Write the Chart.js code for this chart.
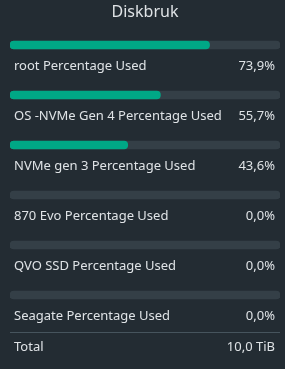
<!DOCTYPE html>
<html>
<head>
<meta charset="utf-8">
<script src="https://cdn.jsdelivr.net/npm/chart.js@4"></script>
<style>
	html, body { margin: 0; padding: 0; background: #232c33; }
	#wrap { width: 285px; height: 369px; position: relative; }
</style>
</head>
<body>
<div id="wrap"><canvas id="diskChart"></canvas></div>
<script>
"use strict";

const disks = ["root", "OS -NVMe Gen 4", "NVMe gen 3", "870 Evo", "QVO SSD", "Seagate"];
const usedPercent = [73.9, 55.7, 43.6, 0.0, 0.0, 0.0];
const totalLabel = "Total";
const totalValue = "10,0 TiB";

const FONT = "'Noto Sans', 'Open Sans', sans-serif";

const fmt = v => v.toFixed(1).replace(".", ",") + "%";

// labels, values and total row under each bar
const rowText = {
	id: "rowText",
	afterDraw(chart) {
		const ctx = chart.ctx;
		const y = chart.scales.y;
		const left = 14, right = 275;
		ctx.save();
		ctx.font = "13px " + FONT;
		ctx.fillStyle = "#dfe3e6";
		ctx.textBaseline = "middle";
		disks.forEach((d, i) => {
			const cy = y.getPixelForValue(i) + 21;
			ctx.textAlign = "left";
			ctx.fillText(d + " Percentage Used", left, cy);
			ctx.textAlign = "right";
			ctx.fillText(fmt(usedPercent[i]), right, cy);
		});
		const last = y.getPixelForValue(disks.length - 1);
		ctx.strokeStyle = "#46545d";
		ctx.lineWidth = 1;
		ctx.beginPath();
		ctx.moveTo(10, Math.round(last + 37) + 0.5);
		ctx.lineTo(280, Math.round(last + 37) + 0.5);
		ctx.stroke();
		ctx.textAlign = "left";
		ctx.fillText(totalLabel, left, last + 52);
		ctx.textAlign = "right";
		ctx.fillText(totalValue, right, last + 52);
		ctx.restore();
	}
};

new Chart(document.getElementById("diskChart"), {
	type: "bar",
	data: {
		labels: disks,
		datasets: [{
			// zero-width bars would leave a rounded sliver, so skip them
			data: usedPercent.map(v => v > 0 ? v : null),
			backgroundColor: "#00a886",
			barThickness: 8,
			borderRadius: 4,
			borderSkipped: false,
			grouped: false
		}, {
			data: disks.map(() => 100),
			backgroundColor: "#343f47",
			barThickness: 8,
			borderRadius: 4,
			borderSkipped: false,
			grouped: false
		}]
	},
	options: {
		indexAxis: "y",
		responsive: true,
		maintainAspectRatio: false,
		animation: false,
		layout: { padding: { left: 10, right: 5, top: 0, bottom: 49 } },
		scales: {
			x: { display: false, min: 0, max: 100 },
			y: { display: false }
		},
		plugins: {
			legend: { display: false },
			tooltip: { enabled: false },
			title: {
				display: true,
				text: "Diskbruk",
				color: "#dfe3e6",
				font: { family: FONT, size: 16, weight: "normal", lineHeight: 1.0 },
				padding: { top: 4, bottom: 0 }
			}
		}
	},
	plugins: [rowText]
});
</script>
</body>
</html>
